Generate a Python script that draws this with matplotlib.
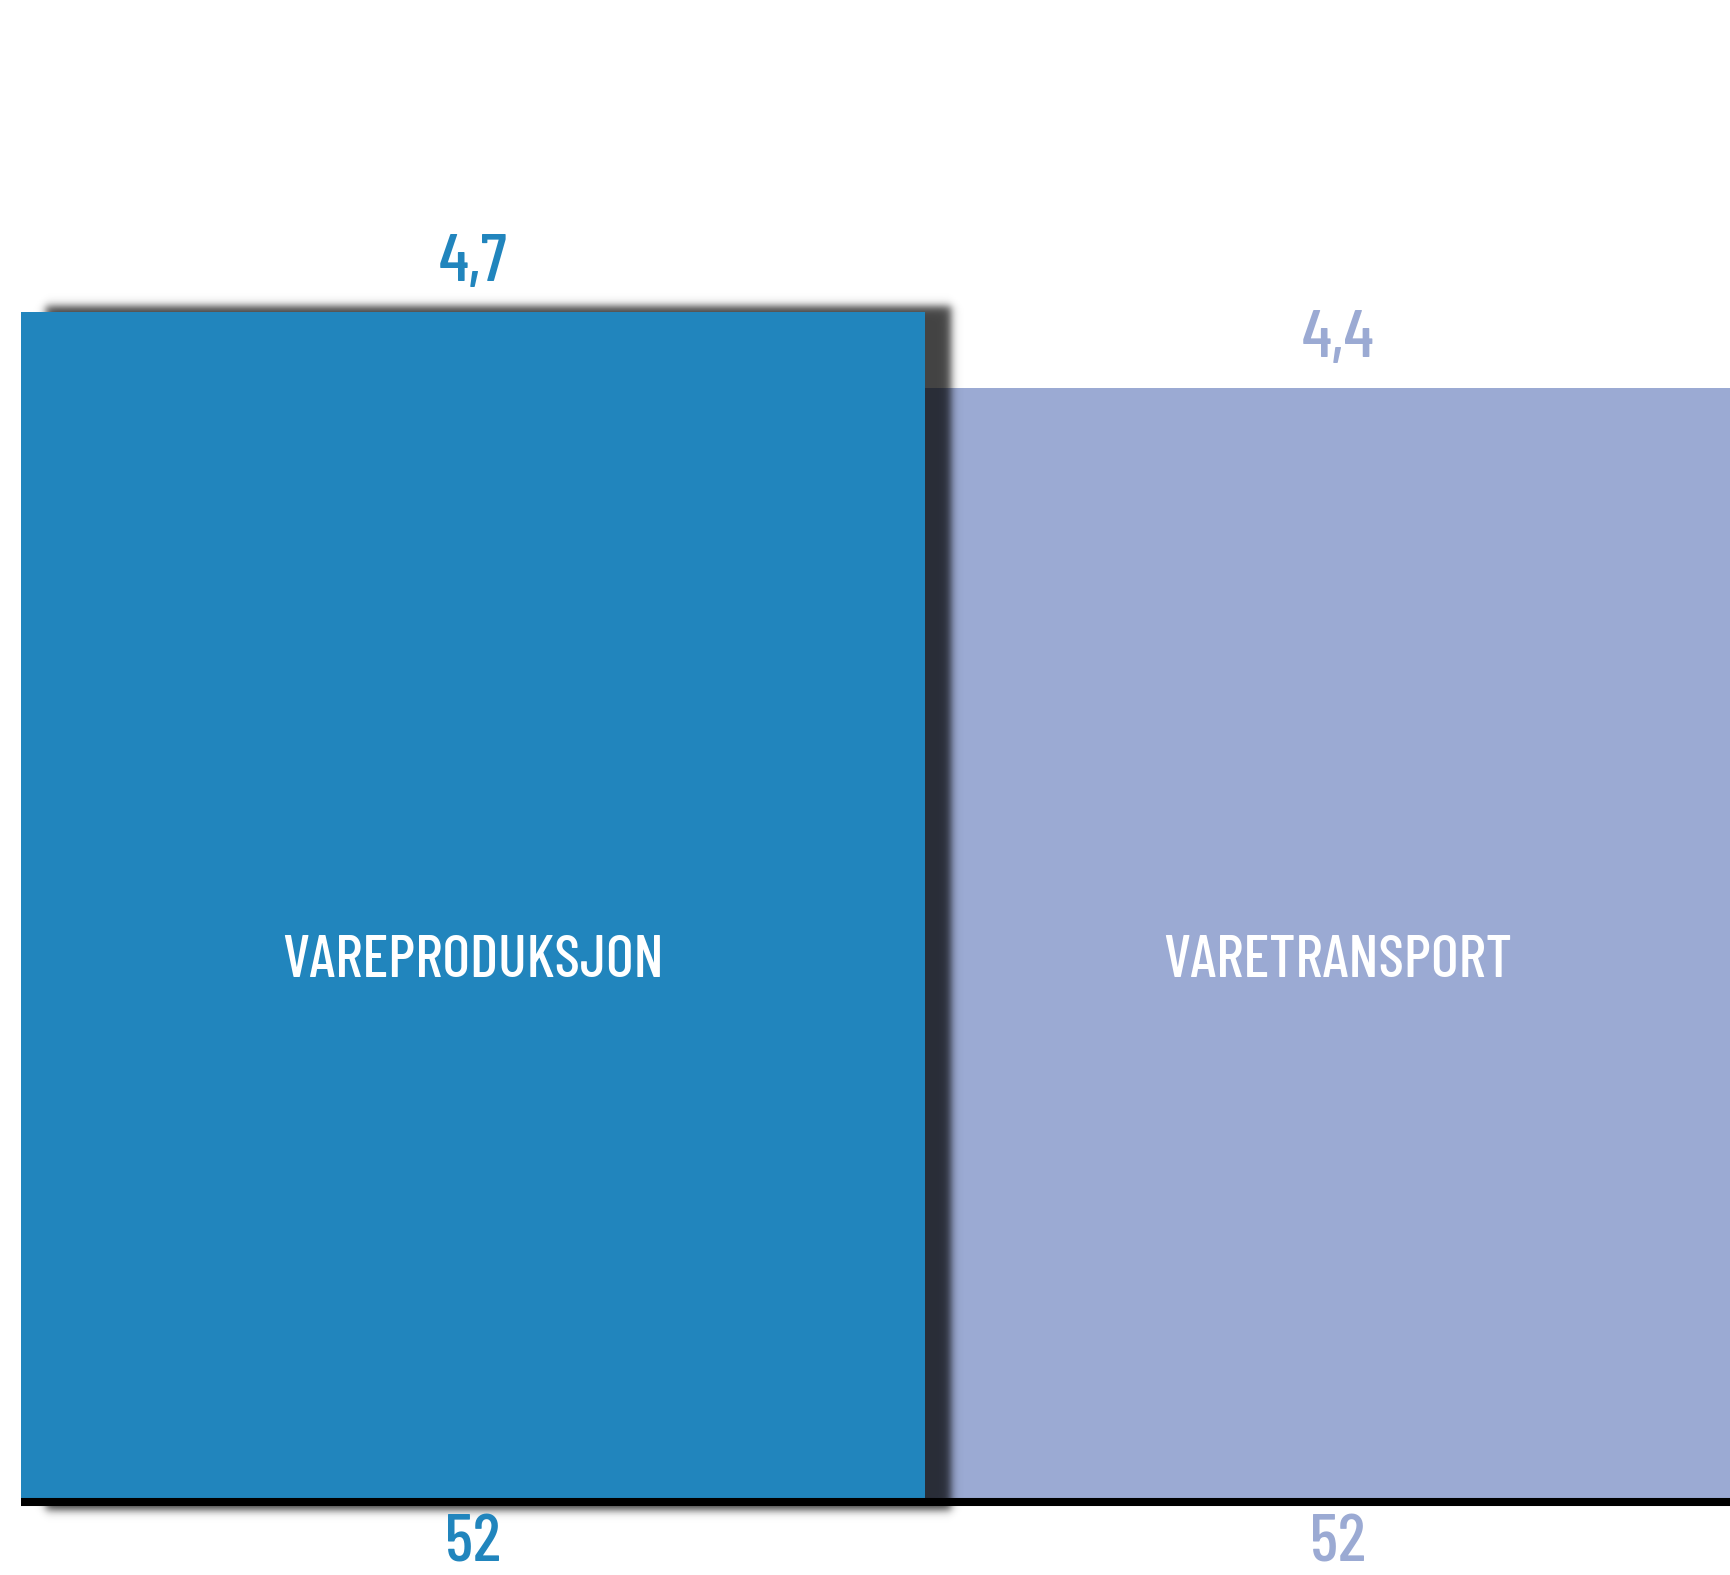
import numpy as np
import matplotlib.pyplot as plt

# data
categories = ['VAREPRODUKSJON', 'VARETRANSPORT']
widths = [52, 52]
heights = [4.7, 4.4]
width_labels = ['52', '52']
height_labels = ['4,7', '4,4']
colors = ['#2185BD', '#9BAAD3']

W, H, DPI = 1731, 1575, 100
# the plot area runs a little past the right edge of the figure
AW = 1751
fig = plt.figure(figsize=(W / DPI, H / DPI), dpi=DPI)
ax = fig.add_axes([0, 0, AW / W, 1])
ax.axis('off')

# scale: pixels per data unit and where the origin sits
x_px = 904 / 52
y_px = 1186 / 4.7
ox, oy = 21, 1498
xmin, xmax = -ox / x_px, (AW - ox) / x_px
ymin, ymax = -(H - oy) / y_px, oy / y_px

font = dict(family=['Barlow Condensed', 'DejaVu Sans'], fontstretch='condensed', fontweight=500)

lefts = np.concatenate([[0], np.cumsum(widths)[:-1]])
for i in range(len(widths)):
    ax.bar(lefts[i], heights[i], width=widths[i], align='edge',
           color=colors[i], zorder=3 if i == 0 else 1)

# soft drop shadow behind the first bar
s_l = lefts[0] + 24 / x_px
s_r = lefts[0] + widths[0] + 27 / x_px
s_b = -13 / y_px
s_t = heights[0] + 7 / y_px
blur = 5.0
pad = 20
xs = np.linspace(s_l - pad / x_px, s_r + pad / x_px, 600)
ys = np.linspace(s_b - pad / y_px, s_t + pad / y_px, 600)
ax_x = 0.25 * (1 + np.tanh((xs - s_l) * x_px / blur)) * (1 + np.tanh((s_r - xs) * x_px / blur))
ax_y = 0.25 * (1 + np.tanh((ys - s_b) * y_px / blur)) * (1 + np.tanh((s_t - ys) * y_px / blur))
alpha = 0.74 * np.outer(ax_y, ax_x)
rgba = np.zeros(alpha.shape + (4,))
rgba[..., 3] = alpha
ax.imshow(rgba, extent=(xs[0], xs[-1], ys[0], ys[-1]), origin='lower',
          aspect='auto', interpolation='bilinear', zorder=2)

# baseline
ax.hlines(-4 / y_px, 0, xmax, color='black', lw=5.8, zorder=4)

for i in range(len(widths)):
    cx = (lefts[i] + min(lefts[i] + widths[i], xmax)) / 2
    ax.annotate(height_labels[i], (cx, heights[i]), xytext=(0, 31),
                textcoords='offset pixels', ha='center', va='baseline',
                fontsize=49, color=colors[i], zorder=5, **font)
    ax.annotate(width_labels[i], (cx, 0), xytext=(0, -64),
                textcoords='offset pixels', ha='center', va='baseline',
                fontsize=48, color=colors[i], zorder=5, **font)
    ax.text(cx, 2.065, categories[i], ha='center', va='baseline',
            fontsize=43, color='white', zorder=5, **font)

ax.set_xlim(xmin, xmax)
ax.set_ylim(ymin, ymax)

fig.savefig('out.png', dpi=DPI)
plt.close()
